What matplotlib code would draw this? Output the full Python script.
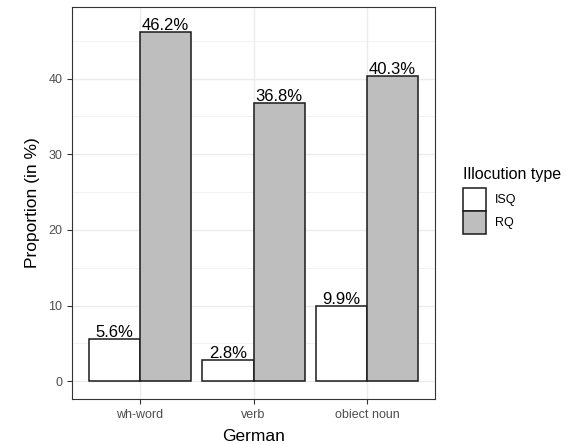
import numpy as np
import matplotlib
matplotlib.use("Agg")
from matplotlib import pyplot as plt
from matplotlib.patches import Patch

categories = ["wh-word", "verb", "obiect noun"]
isq = [5.6, 2.8, 9.9]
rq = [46.2, 36.8, 40.3]
series_names = ["ISQ", "RQ"]

plt.rcParams['font.family'] = ['Liberation Sans', 'DejaVu Sans']

fig = plt.figure(figsize=(5.66, 4.44), dpi=100)
ax = fig.add_axes([72/566, 45/444, 363/566, 392/444])

x = np.arange(1, len(categories) + 1)
w = 0.45
ax.bar(x - w/2, isq, width=w, color="white", edgecolor="#1a1a1a", linewidth=1.1, zorder=3)
ax.bar(x + w/2, rq, width=w, color="#BEBEBE", edgecolor="#1a1a1a", linewidth=1.1, zorder=3)

for xs, vals in [(x - w/2, isq), (x + w/2, rq)]:
    for xi, v in zip(xs, vals):
        ax.text(xi, v - 0.15, f"{v:.1f}%", ha="center", va="bottom", fontsize=12, color="black", zorder=4)

ax.set_xlim(0.4, 3.6)
ax.set_ylim(-2.35, 49.45)
ax.set_xticks(x)
ax.set_xticklabels(categories)
ax.set_yticks([0, 10, 20, 30, 40])
ax.set_yticks([5, 15, 25, 35, 45], minor=True)
ax.tick_params(axis="both", which="major", labelsize=9, labelcolor="#4D4D4D", color="#333333", length=3.5, width=0.8)
ax.tick_params(axis="both", which="minor", length=0)
ax.grid(which="major", color="#EBEBEB", linewidth=1.0, zorder=0)
ax.grid(which="minor", axis="y", color="#EBEBEB", linewidth=0.5, zorder=0)
ax.set_axisbelow(True)
for s in ax.spines.values():
    s.set_color("#333333")
    s.set_linewidth(0.8)

ax.set_xlabel("German", fontsize=12.5, labelpad=6)
ax.set_ylabel("Proportion (in %)", fontsize=12.5, labelpad=6)

handles = [Patch(facecolor="white", edgecolor="#1a1a1a", linewidth=1.1),
           Patch(facecolor="#BEBEBE", edgecolor="#1a1a1a", linewidth=1.1)]
leg = fig.legend(handles, series_names, title="Illocution type", loc="upper left",
                 bbox_to_anchor=(452/566, 1 - 156/444), frameon=False, fontsize=9,
                 title_fontsize=11.5, handlelength=1.84, handleheight=2.45,
                 labelspacing=0.0, handletextpad=0.7, alignment="left")
leg._legend_box.sep = 4

fig.savefig("out.png", dpi=100)
